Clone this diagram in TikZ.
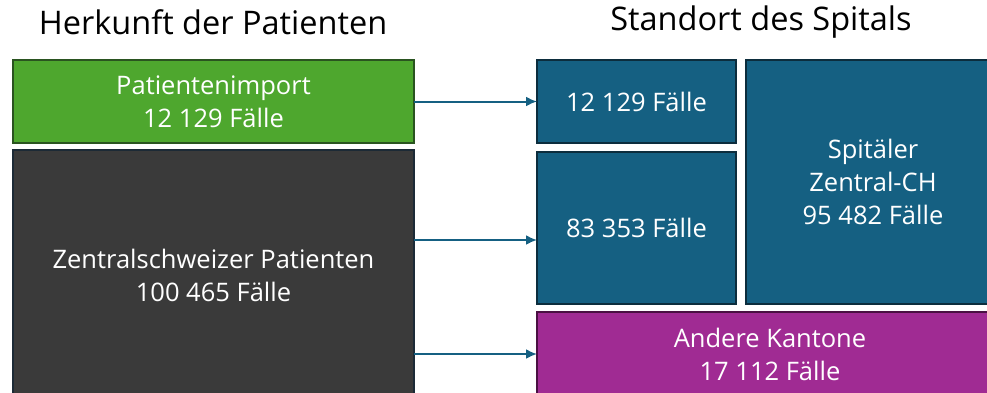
\documentclass[tikz,border=0pt]{standalone}
\usepackage{fontspec}
\setmainfont{Open Sans}
\usetikzlibrary{arrows.meta}

\definecolor{importgreen}{HTML}{4EA72E}
\definecolor{importline}{HTML}{2A5420}
\definecolor{homegrey}{HTML}{3A3A3A}
\definecolor{homeline}{HTML}{1C2A36}
\definecolor{spitalblue}{HTML}{156082}
\definecolor{spitalline}{HTML}{0C2D3D}
\definecolor{exportpurple}{HTML}{A02B93}
\definecolor{exportline}{HTML}{4A1042}

\begin{document}
\begin{tikzpicture}[x = 1pt, y = -1pt,
	box/.style = {rectangle, draw, line width = 2pt, anchor = north west,
		inner sep = 0pt, outer sep = 0pt, align = center, text = white,
		font = \fontsize{25.5}{33}\selectfont},
	title/.style = {font = \fontsize{32.5}{38}\selectfont},
	flow/.style = {-{Latex[length = 11pt, width = 10pt]}, draw = spitalblue, line width = 2pt}]

\useasboundingbox (0, 0) rectangle (987, 392);
\clip (0, 0) rectangle (987, 392);

% Titles

\node [title] (herkunft) at (213, 22) {Herkunft der Patienten};
\node [title] (standort) at (761, 22) {Standort des Spitals};

% Origin of patients

\node [box, fill = importgreen, draw = importline, minimum width = 401, minimum height = 83]
	(import) at (13, 60) {Patientenimport\\12 129 Fälle};
\node [box, fill = homegrey, draw = homeline, minimum width = 401, minimum height = 250]
	(home) at (13, 150) {Zentralschweizer Patienten\\100 465 Fälle};

% Location of hospitals

\node [box, fill = spitalblue, draw = spitalline, minimum width = 199, minimum height = 83]
	(spital1) at (537, 60) {12 129 Fälle};
\node [box, fill = spitalblue, draw = spitalline, minimum width = 199, minimum height = 152]
	(spital2) at (537, 152) {83 353 Fälle};
\node [box, fill = spitalblue, draw = spitalline, minimum width = 254, minimum height = 244]
	(zentral) at (746, 60) {Spitäler\\Zentral-CH\\95 482 Fälle};
\node [box, fill = exportpurple, draw = exportline, minimum width = 466, minimum height = 84]
	(andere) at (537, 312) {Andere Kantone\\17 112 Fälle};

% Flows

\coordinate (mid) at (475, 240);
\draw [flow] (import.east) -- (spital1.west);
\draw [flow] (home.east |- mid) -- (spital2.west |- mid);
\draw [flow] (home.east |- andere.west) -- (andere.west);

\end{tikzpicture}
\end{document}
